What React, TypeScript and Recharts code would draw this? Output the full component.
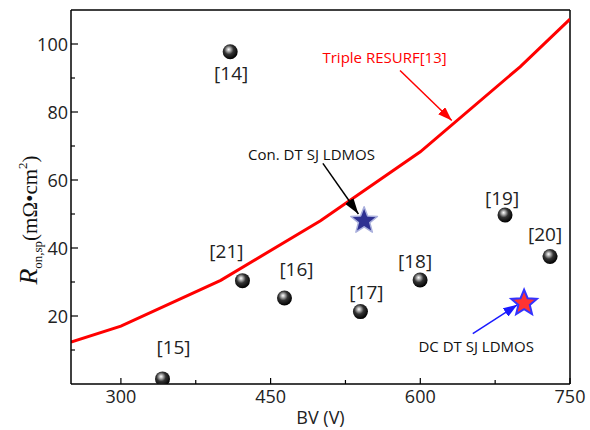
import React from 'react';
import { ComposedChart, XAxis, YAxis, Line, Scatter, ReferenceLine, ReferenceDot } from 'recharts';

// Triple RESURF [13] curve
const resurfBV = [250, 300, 400, 500, 600, 700, 750];
const resurfRon = [12.3, 17, 30.5, 48, 68.3, 93.3, 107.3];

// reference devices
const refBV = [409.5, 341.7, 421.8, 463.9, 540, 599.8, 684.9, 730];
const refRon = [97.7, 1.5, 30.4, 25.3, 21.3, 30.6, 49.7, 37.5];
const refLabels = ['[14]', '[15]', '[21]', '[16]', '[17]', '[18]', '[19]', '[20]'];

// this work
const conBV = [543.7];
const conRon = [48];
const dcBV = [704];
const dcRon = [23.8];

// annotations
const noteTexts = ['Triple RESURF[13]', 'Con. DT SJ LDMOS', 'DC DT SJ LDMOS'];
const noteBV = [564.2, 491, 656];
const noteRon = [95.8, 67.4, 11];
const arrowFromBV = [579.7, 502.4, 652.6];
const arrowFromRon = [92.2, 64.9, 14.8];
const arrowToBV = [631.5, 538, 697.2];
const arrowToRon = [77.5, 50, 23.3];

// ticks
const xTicks = [300, 375, 450, 525, 600, 675, 750];
const xMajor = [300, 450, 600, 750];
const yTicks = [10, 20, 30, 40, 50, 60, 70, 80, 90, 100];
const yMajor = [20, 40, 60, 80, 100];
const xDomain = [250, 750];
const yDomain = [0, 110];

// layout-only (label offsets in px relative to the marker)
const labelDx = [1, 11, -16, 12, 6, -5, -3, -5];
const labelDy = [22, -31, -29, -28, -19, -18, -17, -22];
const noteColors = ['#ff0000', '#111111', '#111111'];
const arrowColors = ['#ff0000', '#000000', '#1a1aff'];
const arrowMarkers = ['arrRed', 'arrBlack', 'arrBlue'];

const resurfData = resurfBV.map((bv, i) => ({ bv, ron: resurfRon[i] }));
const refData = refBV.map((bv, i) => ({ bv, ron: refRon[i], label: refLabels[i], i }));
const conData = conBV.map((bv, i) => ({ bv, ron: conRon[i] }));
const dcData = dcBV.map((bv, i) => ({ bv, ron: dcRon[i] }));

const FONT = '"Open Sans", sans-serif';

function starPath(cx: number, cy: number, R: number, r: number) {
  const pts: string[] = [];
  for (let k = 0; k < 10; k++) {
    const ang = -Math.PI / 2 + (k * Math.PI) / 5;
    const rad = k % 2 === 0 ? R : r;
    pts.push(`${cx + rad * Math.cos(ang)},${cy + rad * Math.sin(ang)}`);
  }
  return pts.join(' ');
}

const Sphere = (p: any) => {
  const { cx, cy, payload } = p;
  const i = payload.i;
  return (
    <g>
      <circle cx={cx} cy={cy} r={7.5} fill="url(#sphereGrad)" />
      <text
        x={cx + labelDx[i]}
        y={cy + labelDy[i] + 6.5}
        textAnchor="middle"
        fontSize={19}
        fontFamily={FONT}
        fill="#222"
      >
        {payload.label}
      </text>
    </g>
  );
};

const ConStar = (p: any) => (
  <g>
    <polygon points={starPath(p.cx, p.cy, 14, 6)} fill="#2e3192" stroke="#aab0dd" strokeWidth={1.5} strokeLinejoin="round" />
  </g>
);

const DcStar = (p: any) => (
  <polygon points={starPath(p.cx, p.cy, 13.5, 6)} fill="#ff3333" stroke="#3333ff" strokeWidth={2} strokeLinejoin="miter" />
);

const XTick = (p: any) => {
  const { x, y, payload } = p;
  const major = xMajor.includes(payload.value);
  return (
    <g>
      <line x1={x} y1={y} x2={x} y2={y - (major ? 6 : 4)} stroke="#000" strokeWidth={1.2} />
      {major && (
        <text x={x} y={y + 19} textAnchor="middle" fontSize={18} fontFamily={FONT} fill="#222">
          {payload.value}
        </text>
      )}
    </g>
  );
};

const YTick = (p: any) => {
  const { x, y, payload } = p;
  const major = yMajor.includes(payload.value);
  return (
    <g>
      <line x1={x} y1={y} x2={x + (major ? 7 : 4)} y2={y} stroke="#000" strokeWidth={1.2} />
      {major && (
        <text x={x - 3} y={y + 6.5} textAnchor="end" fontSize={18} fontFamily={FONT} fill="#222">
          {payload.value}
        </text>
      )}
    </g>
  );
};

const XLabel = (p: any) => {
  const vb = p.viewBox || { x: 71, y: 384, width: 499 };
  return (
    <text x={vb.x + vb.width / 2} y={vb.y + 40} textAnchor="middle" fontSize={18} fontFamily={FONT} fill="#222">
      BV (V)
    </text>
  );
};

const YLabel = () => (
  <text
    transform="translate(37,220) rotate(-90)"
    x={0}
    y={0}
    textAnchor="middle"
    fontFamily='"Liberation Serif", "Times New Roman", serif'
    fill="#111"
  >
    <tspan fontSize={26} fontStyle="italic">R</tspan>
    <tspan fontSize={13} dy={5}>on,sp</tspan>
    <tspan fontSize={21} dy={-5}>(mΩ•cm</tspan>
    <tspan fontSize={13} dy={-10}>2</tspan>
    <tspan fontSize={21} dy={10}>)</tspan>
  </text>
);

export default function App() {
  return (
    <div style={{ position: 'absolute', left: 0, top: 0, width: 590, height: 430, background: '#fff' }}>
      <svg width={0} height={0} style={{ position: 'absolute' }}>
        <defs>
          <radialGradient id="sphereGrad" cx="42%" cy="38%" r="62%" fx="40%" fy="34%">
            <stop offset="0%" stopColor="#ffffff" />
            <stop offset="18%" stopColor="#bbbbbb" />
            <stop offset="50%" stopColor="#333333" />
            <stop offset="100%" stopColor="#000000" />
          </radialGradient>
          <marker id="arrRed" viewBox="0 0 14 10" refX={14} refY={5} markerWidth={14} markerHeight={10} markerUnits="userSpaceOnUse" orient="auto">
            <path d="M0,0 L14,5 L0,10 z" fill="#ff0000" />
          </marker>
          <marker id="arrBlack" viewBox="0 0 16 10" refX={16} refY={5} markerWidth={16} markerHeight={10} markerUnits="userSpaceOnUse" orient="auto">
            <path d="M0,0 L16,5 L0,10 z" fill="#000000" />
          </marker>
          <marker id="arrBlue" viewBox="0 0 14 10" refX={14} refY={5} markerWidth={14} markerHeight={10} markerUnits="userSpaceOnUse" orient="auto">
            <path d="M0,0 L14,5 L0,10 z" fill="#1a1aff" />
          </marker>
        </defs>
      </svg>
      <ComposedChart width={590} height={430} margin={{ top: 10, right: 20, bottom: 0, left: 0 }}>
        <XAxis
          dataKey="bv"
          type="number"
          domain={xDomain}
          ticks={xTicks}
          allowDataOverflow
          height={46}
          tickSize={0}
          tickMargin={0}
          tickLine={false}
          tick={<XTick />}
          axisLine={{ stroke: '#000', strokeWidth: 1.5 }}
          interval={0}
          label={{ content: <XLabel /> } as any}
        />
        <YAxis
          dataKey="ron"
          type="number"
          domain={yDomain}
          ticks={yTicks}
          allowDataOverflow
          width={71}
          tickSize={0}
          tickMargin={0}
          tickLine={false}
          tick={<YTick />}
          axisLine={{ stroke: '#000', strokeWidth: 1.5 }}
          interval={0}
          label={{ content: <YLabel /> } as any}
        />
        {/* frame: top and right edges */}
        <ReferenceLine y={yDomain[1]} stroke="#000" strokeWidth={1.5} />
        <ReferenceLine x={xDomain[1]} stroke="#000" strokeWidth={1.5} />
        <Line
          data={resurfData}
          dataKey="ron"
          type="linear"
          stroke="#ff0000"
          strokeWidth={3}
          dot={false}
          activeDot={false}
          isAnimationActive={false}
        />
        <Scatter data={refData} dataKey="ron" shape={Sphere} isAnimationActive={false} />
        {noteTexts.map((t, i) => (
          <ReferenceLine
            key={'arr' + i}
            segment={[
              { x: arrowFromBV[i], y: arrowFromRon[i] },
              { x: arrowToBV[i], y: arrowToRon[i] },
            ]}
            stroke={arrowColors[i]}
            shape={(p: any) => (
              <line
                x1={p.x1}
                y1={p.y1}
                x2={p.x2}
                y2={p.y2}
                stroke={arrowColors[i]}
                strokeWidth={1.5}
                markerEnd={`url(#${arrowMarkers[i]})`}
              />
            )}
          />
        ))}
        {noteTexts.map((t, i) => (
          <ReferenceDot
            key={'note' + i}
            x={noteBV[i]}
            y={noteRon[i]}
            r={0}
            shape={(p: any) => (
              <text x={p.cx} y={p.cy + 5} textAnchor="middle" fontSize={15} fontFamily={FONT} fill={noteColors[i]}>
                {t}
              </text>
            )}
          />
        ))}
        <Scatter data={conData} dataKey="ron" shape={ConStar} isAnimationActive={false} />
        <Scatter data={dcData} dataKey="ron" shape={DcStar} isAnimationActive={false} />
      </ComposedChart>
    </div>
  );
}
